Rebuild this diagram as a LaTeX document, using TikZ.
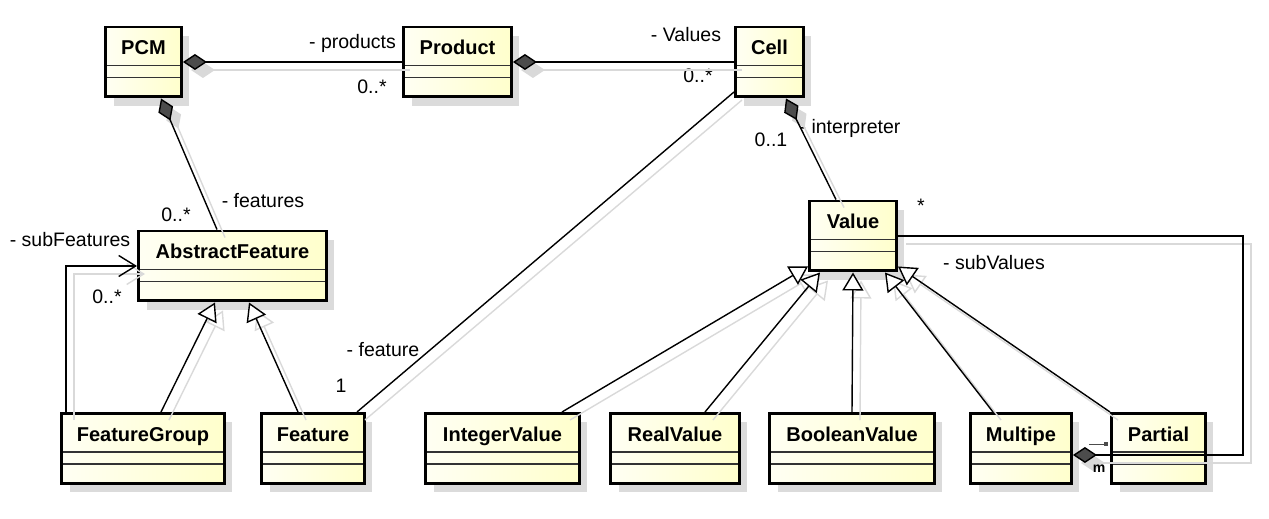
\documentclass[tikz,border=0pt]{standalone}
\usepackage{fontspec}
\setmainfont{Liberation Sans}
\usetikzlibrary{arrows.meta,shadows,calc}

\definecolor{classleft}{RGB}{255,255,243}
\definecolor{classright}{RGB}{255,255,204}

\tikzset{
  classbox/.style={draw=black, line width=1.7pt, inner sep=0pt,
    text height=0.56cm, text depth=0.84cm,
    font=\fontsize{11.4}{13}\selectfont\bfseries,
    left color=classleft, right color=classright,
    drop shadow={shadow xshift=0.16cm, shadow yshift=-0.18cm, fill=black!14, opacity=1},
    path picture={
      \draw[black!80, line width=0.7pt]
        ([yshift=-0.77cm]path picture bounding box.north west) -- ([yshift=-0.77cm]path picture bounding box.north east)
        ([yshift=-1.01cm]path picture bounding box.north west) -- ([yshift=-1.01cm]path picture bounding box.north east);
    }},
  role/.style={font=\fontsize{11.1}{13}\selectfont, inner sep=0pt},
  link/.style={line width=0.8pt},
  comp/.style={link, {Diamond[length=0.48cm, width=0.32cm, fill=\diamondfill]}-},
  gen/.style={link, -{Triangle[length=0.36cm, width=0.42cm, fill=white]}},
  nav/.style={link, -{Straight Barb[length=0.34cm, width=0.42cm]}}
}

\begin{document}
\begin{tikzpicture}[x=0.02cm, y=-0.02cm]
            \useasboundingbox (0,0) rectangle (1269,519);
            % Classes
            \node[classbox, minimum width=1.52cm] (pcm) at (143.5,62) {PCM};
            \node[classbox, minimum width=2.16cm] (product) at (457.5,62) {Product};
            \node[classbox, minimum width=1.36cm] (cell) at (769.5,62) {Cell};
            \node[classbox, minimum width=3.76cm] (abstractfeature) at (232.5,266) {AbstractFeature};
            \node[classbox, minimum width=1.74cm] (value) at (853,236) {Value};
            \node[classbox, minimum width=3.26cm] (featuregroup) at (143,448.5) {FeatureGroup};
            \node[classbox, minimum width=2.06cm] (feature) at (313,448.5) {Feature};
            \node[classbox, minimum width=3.08cm] (integervalue) at (502.5,448.5) {IntegerValue};
            \node[classbox, minimum width=2.58cm] (realvalue) at (675,448.5) {RealValue};
            \node[classbox, minimum width=3.30cm] (booleanvalue) at (852,448.5) {BooleanValue};
            \node[classbox, minimum width=2.02cm] (multipe) at (1021,448.5) {Multipe};
            \node[classbox, minimum width=1.88cm] (partial) at (1158.5,448.5) {Partial};
            % Coordinates
            \coordinate (corner) at (1243,236);
            \coordinate (stubA) at (1089,444);
            \coordinate (stubB) at (1106,444);
            % Labels
            \node[role] (products) at (352.5,43) {- products};
            \node[role] (productsmult) at (372,87) {0..*};
            \node[role] (values) at (686,35) {- Values};
            \node[role] (valuesmult) at (698,76) {0..*};
            \node[role] (interpreter) at (850,128) {- interpreter};
            \node[role] (interpretermult) at (771,140) {0..1};
            \node[role] (features) at (263,201) {- features};
            \node[role] (featuresmult) at (176,215) {0..*};
            \node[role] (subfeatures) at (70,240) {- subFeatures};
            \node[role] (subfeaturesmult) at (107,297) {0..*};
            \node[role] (featurerole) at (383,350) {- feature};
            \node[role] (featuremult) at (341,386) {1};
            \node[role] (subvaluesmult) at (921,206) {*};
            \node[role] (subvalues) at (994,263) {- subValues};

            % Links, first their shadow, then the links
            \foreach \linkcol/\diamondfill/\off in {black!15/black!15/8, black/black!70/0}{
              \begin{scope}[color=\linkcol, transform canvas={shift={(\off,\off)}}]
                \draw[comp] (pcm.east) -- (product.west);
                \draw[comp] (product.east) -- (cell.west);
                \draw[comp] ($(pcm.south)+(17.5,0)$) -- ($(abstractfeature.north)+(-15.5,0)$);
                \draw[comp] ($(cell.south)+(16.5,0)$) -- ($(value.north)+(-17,0)$);
                \draw[comp] ($(multipe.east)+(0,6.5)$) -| (corner) -- (value.east);
                \draw[link] ($(cell.west)+(0,30)$) -- ($(feature.north east)+(-9,0)$);
                \draw[nav] ($(featuregroup.north)+(-77,0)$) |- (abstractfeature.west);
                \draw[gen] ($(featuregroup.north)+(18,0)$) -- ($(abstractfeature.south)+(-17.5,0)$);
                \draw[gen] ($(feature.north)+(-15,0)$) -- ($(abstractfeature.south)+(16.5,0)$);
                \draw[gen] ($(integervalue.north)+(59.5,0)$) -- ($(value.south west)+(0,-6)$);
                \draw[gen] ($(realvalue.north)+(30,0)$) -- ($(value.south)+(-33,0)$);
                \draw[gen] (booleanvalue.north) -- (value.south);
                \draw[gen] ($(multipe.north)+(-28,0)$) -- ($(value.south)+(32,0)$);
                \draw[gen] (partial.north west) -- ($(value.south east)+(0,-6)$);
              \end{scope}
            }

            % draw the small stub and its mark
            \node[role, font=\fontsize{8}{9}\selectfont\bfseries] (mlabel) at (1099,469) {m};
            \draw[black!70, line width=0.5pt] (stubA) -- (stubB);
            \fill[black!70] ($(stubB)+(-2,-2)$) rectangle ($(stubB)+(2,2)$);
\end{tikzpicture}
\end{document}
